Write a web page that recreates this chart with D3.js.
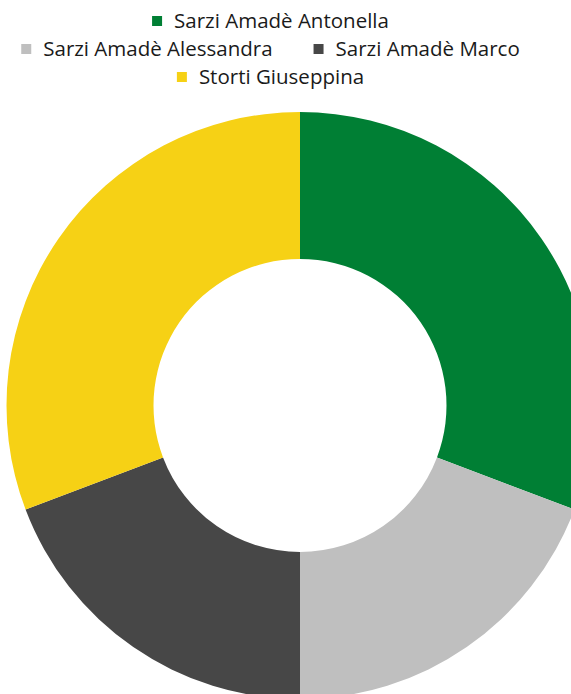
<!DOCTYPE html>
<html><head><meta charset="utf-8">
<script src="https://cdn.jsdelivr.net/npm/d3@7"></script>
<style>body{margin:0;background:#fff;} svg{display:block;}</style>
</head><body>
<svg id="c" width="571" height="694"></svg>
<script>
const categories = ["Sarzi Amadè Antonella","Sarzi Amadè Alessandra","Sarzi Amadè Marco","Storti Giuseppina"];
const values = [8, 5, 5, 8];
const colors = ["#007F34","#BFBFBF","#474747","#F6D115"];
const legendRows = [[0],[1,2],[3]];

const svg = d3.select("#c");
const cx = 300, cy = 405.5, rOut = 293.5, rIn = 146.5;
const pie = d3.pie().sort(null).value(d => d)(values);
const arc = d3.arc().innerRadius(rIn).outerRadius(rOut);
const color = d3.scaleOrdinal().domain(d3.range(categories.length)).range(colors);
svg.append("g").attr("transform", `translate(${cx},${cy})`)
  .selectAll("path").data(pie).join("path")
  .attr("d", arc).attr("fill", (d,i) => color(i));

const lg = svg.append("g");
const fontSize = 20.5, box = 10, gapText = 12, gapItem = 41, legendCx = 270.5;
legendRows.forEach((row, ri) => {
  const y = 21 + ri * 28;
  const g = lg.append("g");
  let x = 0;
  row.forEach((idx, k) => {
    if (k > 0) x += gapItem;
    g.append("rect").attr("x", x).attr("y", y - box/2).attr("width", box).attr("height", box).attr("fill", color(idx));
    x += box + gapText;
    const t = g.append("text").attr("x", x).attr("y", y).attr("dy", "0.35em")
      .attr("font-family", "'Open Sans', sans-serif").attr("font-size", fontSize).attr("fill", "#1a1a1a")
      .text(categories[idx]);
    x += t.node().getComputedTextLength();
  });
  g.attr("transform", `translate(${legendCx - x/2},0)`);
});
</script>
</body></html>
